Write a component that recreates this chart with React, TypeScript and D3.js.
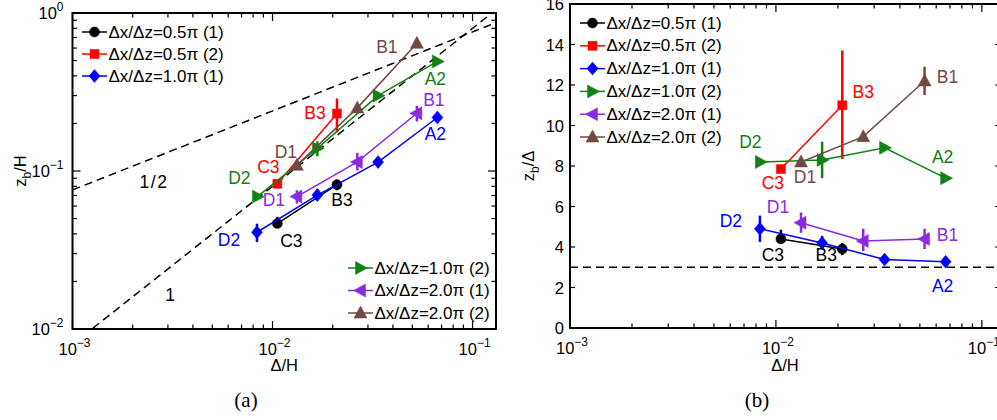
import React from 'react';
import * as d3 from 'd3';

// Series definitions (legend order)
const seriesNames = [
  'Δx/Δz=0.5π (1)',
  'Δx/Δz=0.5π (2)',
  'Δx/Δz=1.0π (1)',
  'Δx/Δz=1.0π (2)',
  'Δx/Δz=2.0π (1)',
  'Δx/Δz=2.0π (2)',
];
const seriesColors = ['#000000', '#ff0000', '#0000ff', '#138013', '#8a2be2', '#6f4a45'];
const seriesMarkers = ['circle', 'square', 'diamond', 'triRight', 'triLeft', 'triUp'];

// Δ/H of every run in each series
const deltaH: number[][] = [
  [0.01057, 0.021],
  [0.01057, 0.021],
  [0.00836, 0.01676, 0.0337, 0.0667],
  [0.0084, 0.01676, 0.0337, 0.0667],
  [0.01324, 0.02655, 0.0527],
  [0.01324, 0.02655, 0.0527],
];

// z_b/Δ of every run in each series
const zbOverDelta: number[][] = [
  [4.4, 3.9],
  [7.85, 11.0],
  [4.9, 4.2, 3.38, 3.27],
  [8.2, 8.3, 8.9, 7.4],
  [5.2, 4.3, 4.4],
  [8.2, 9.45, 12.2],
];

// Uncertainty range of z_b/Δ (null: no bar drawn)
const errLow: (number | null)[][] = [
  [4.15, 3.6],
  [null, 8.35],
  [4.25, 3.9, 3.2, null],
  [null, 7.4, null, null],
  [4.7, 3.8, 3.9],
  [null, null, 11.5],
];
const errHigh: (number | null)[][] = [
  [4.85, 4.2],
  [null, 13.7],
  [5.55, 4.55, 3.6, null],
  [null, 9.2, null, null],
  [5.7, 4.9, 4.9],
  [null, null, 12.9],
];

// Run names attached to points: [series, point, name]
const runLabels: [number, number, string][] = [
  [0, 0, 'C3'],
  [0, 1, 'B3'],
  [1, 0, 'C3'],
  [1, 1, 'B3'],
  [2, 0, 'D2'],
  [2, 3, 'A2'],
  [3, 0, 'D2'],
  [3, 3, 'A2'],
  [4, 0, 'D1'],
  [4, 2, 'B1'],
  [5, 0, 'D1'],
  [5, 2, 'B1'],
];
// Label offsets (px) from their point, per panel
const labelOffsetA: [number, number][] = [
  [14, 17], [5, 15], [-9, -17], [-22, -1], [-28, 8], [-2, 17],
  [-18, -19], [-2, 18], [-23, 3], [17, -13], [-11, -13], [-30, 4],
];
const labelOffsetB: [number, number][] = [
  [-8, 16], [-16, 6], [-8, 14], [21, -13], [-29, -8], [-3, 24],
  [-10, -20], [-3, -21], [-23, -16], [23, -4], [4, 15], [23, -4],
];

// Reference slopes in panel (a): z_b/H = c1 * Δ/H and z_b/H = cHalf * (Δ/H)^(1/2)
const slopeOneCoef = 8;
const slopeHalfCoef = 2.4;
// Reference level in panel (b)
const zbOverDeltaRef = 3;

const xDomainA: [number, number] = [1e-3, 0.131];
const xDomainB: [number, number] = [1e-3, 0.1225];
const yDomainA: [number, number] = [1e-2, 1];
const yDomainB: [number, number] = [0, 16];
const yTicksB = [0, 2, 4, 6, 8, 10, 12, 14, 16];

const FONT = "'Liberation Sans', Arial, Helvetica, sans-serif";

function markerPath(kind: string): string {
  switch (kind) {
    case 'circle':
      return 'M5,0A5,5 0 1,1 -5,0A5,5 0 1,1 5,0Z';
    case 'square':
      return 'M-4.5,-4.5H4.5V4.5H-4.5Z';
    case 'diamond':
      return 'M0,-6.5L5.5,0L0,6.5L-5.5,0Z';
    case 'triRight':
      return 'M7,0L-5,-6.5L-5,6.5Z';
    case 'triLeft':
      return 'M-7,0L5,-6.5L5,6.5Z';
    default:
      return 'M0,-7L6.5,5L-6.5,5Z';
  }
}

function Pow10({ exp, x, y, anchor }: { exp: number; x: number; y: number; anchor: string }) {
  const e = exp < 0 ? `\u2212${-exp}` : `${exp}`;
  return (
    <text x={x} y={y} textAnchor={anchor} fontFamily={FONT} fontSize={16.5} fill="#000">
      <tspan>10</tspan>
      <tspan dy={-8} fontSize={12}>{e}</tspan>
    </text>
  );
}

type PanelProps = {
  id: string;
  left: number;
  right: number;
  top: number;
  bottom: number;
  xDomain: [number, number];
  logY: boolean;
  yDomain: [number, number];
  yValue: (dh: number, r: number) => number;
  offsets: [number, number][];
  children?: React.ReactNode;
  xLabelY: number;
};

function Panel(p: PanelProps) {
  const x = d3.scaleLog().domain(p.xDomain).range([p.left, p.right]);
  const y = p.logY
    ? d3.scaleLog().domain(p.yDomain).range([p.bottom, p.top])
    : d3.scaleLinear().domain(p.yDomain).range([p.bottom, p.top]);

  const line = d3
    .line<[number, number]>()
    .x((d) => x(d[0]))
    .y((d) => y(d[1]));

  const xTicks = (x.ticks() as number[]).filter((t) => t >= p.xDomain[0] * 0.999 && t <= p.xDomain[1]);
  const isMajor = (t: number) => Math.abs(Math.log10(t) - Math.round(Math.log10(t))) < 1e-6;

  const yTickVals: number[] = p.logY
    ? (y.ticks() as number[]).filter((t) => t >= p.yDomain[0] * 0.999 && t <= p.yDomain[1] * 1.001)
    : yTicksB;

  return (
    <g>
      <defs>
        <clipPath id={p.id}>
          <rect x={p.left} y={p.top} width={p.right - p.left} height={p.bottom - p.top} />
        </clipPath>
      </defs>

      {/* x ticks (bottom & top, inward) */}
      {xTicks.map((t, i) => {
        const len = isMajor(t) ? 8 : 4.5;
        const xp = x(t);
        return (
          <g key={'xt' + i} stroke="#000" strokeWidth={1.2}>
            <line x1={xp} x2={xp} y1={p.bottom} y2={p.bottom - len} />
            <line x1={xp} x2={xp} y1={p.top} y2={p.top + len} />
          </g>
        );
      })}
      {xTicks.filter(isMajor).map((t, i) => (
        <Pow10 key={'xl' + i} exp={Math.round(Math.log10(t))} x={x(t) + 2} y={p.bottom + 26} anchor="middle" />
      ))}

      {/* y ticks (left & right, inward) */}
      {yTickVals.map((t, i) => {
        const len = p.logY ? (isMajor(t) ? 8 : 4.5) : 5;
        const yp = y(t);
        return (
          <g key={'yt' + i} stroke="#000" strokeWidth={1.2}>
            <line x1={p.left} x2={p.left + len} y1={yp} y2={yp} />
            <line x1={p.right} x2={p.right - len} y1={yp} y2={yp} />
          </g>
        );
      })}
      {p.logY
        ? yTickVals.filter(isMajor).map((t, i) => (
            <Pow10 key={'yl' + i} exp={Math.round(Math.log10(t))} x={p.left - 9} y={y(t) + 6} anchor="end" />
          ))
        : yTickVals.map((t, i) => (
            <text key={'yl' + i} x={p.left - 6} y={y(t) + 6} textAnchor="end" fontFamily={FONT} fontSize={16.5}>
              {t}
            </text>
          ))}

      <g clipPath={`url(#${p.id})`}>{p.children}</g>

      {/* data: lines, error bars, markers */}
      {deltaH.map((xs, s) => {
        const pts: [number, number][] = xs.map((dh, i) => [dh, p.yValue(dh, zbOverDelta[s][i])]);
        const col = seriesColors[s];
        return (
          <g key={'s' + s}>
            <path d={line(pts) || ''} fill="none" stroke={col} strokeWidth={1.5} />
            {xs.map((dh, i) => {
              const lo = errLow[s][i];
              const hi = errHigh[s][i];
              if (lo == null || hi == null) return null;
              return (
                <line
                  key={'e' + i}
                  x1={x(dh)}
                  x2={x(dh)}
                  y1={y(p.yValue(dh, lo))}
                  y2={y(p.yValue(dh, hi))}
                  stroke={col}
                  strokeWidth={2.5}
                />
              );
            })}
            {pts.map((d, i) => (
              <path
                key={'m' + i}
                d={markerPath(seriesMarkers[s])}
                transform={`translate(${x(d[0])},${y(d[1])})`}
                fill={col}
                stroke={col}
                strokeWidth={0.5}
              />
            ))}
          </g>
        );
      })}

      {/* run names */}
      {runLabels.map(([s, i, name], k) => {
        const dh = deltaH[s][i];
        const px = x(dh) + p.offsets[k][0];
        const py = y(p.yValue(dh, zbOverDelta[s][i])) + p.offsets[k][1];
        return (
          <text
            key={'rl' + k}
            x={px}
            y={py}
            textAnchor="middle"
            dominantBaseline="central"
            fontFamily={FONT}
            fontSize={17.5}
            fill={seriesColors[s]}
          >
            {name}
          </text>
        );
      })}

      {/* frame */}
      <rect
        x={p.left}
        y={p.top}
        width={p.right - p.left}
        height={p.bottom - p.top}
        fill="none"
        stroke="#000"
        strokeWidth={2}
      />

      <text
        x={(p.left + p.right) / 2}
        y={p.xLabelY}
        textAnchor="middle"
        fontFamily={FONT}
        fontSize={16.5}
      >
        Δ/H
      </text>
    </g>
  );
}

function LegendRows({
  items,
  x0,
  y0,
  dy,
}: {
  items: number[];
  x0: number;
  y0: number;
  dy: number;
}) {
  return (
    <g>
      {items.map((s, k) => {
        const yy = y0 + k * dy;
        const col = seriesColors[s];
        return (
          <g key={'lg' + s}>
            <line x1={x0} x2={x0 + 25} y1={yy} y2={yy} stroke={col} strokeWidth={1.5} />
            <path d={markerPath(seriesMarkers[s])} transform={`translate(${x0 + 12.5},${yy})`} fill={col} stroke={col} strokeWidth={0.5} />
            <text x={x0 + 26.5} y={yy} dominantBaseline="central" fontFamily={FONT} fontSize={17}>
              {seriesNames[s]}
            </text>
          </g>
        );
      })}
    </g>
  );
}

export default function App() {
  const W = 997;
  const H = 420;

  // panel (a) geometry
  const aL = 72.5, aR = 496, aT = 13, aB = 329;
  const xa = d3.scaleLog().domain(xDomainA).range([aL, aR]);
  const ya = d3.scaleLog().domain(yDomainA).range([aB, aT]);
  const refXs = d3.range(0, 61).map((k) => xDomainA[0] * Math.pow(xDomainA[1] / xDomainA[0], k / 60));
  const slopeOne = d3
    .line<number>()
    .x((v) => xa(v))
    .y((v) => ya(slopeOneCoef * v))(refXs) || '';
  const slopeHalf = d3
    .line<number>()
    .x((v) => xa(v))
    .y((v) => ya(slopeHalfCoef * Math.sqrt(v)))(refXs) || '';

  // panel (b) geometry
  const bL = 570, bR = 1000, bT = 4, bB = 328;
  const yb = d3.scaleLinear().domain(yDomainB).range([bB, bT]);

  return (
    <svg
      width={W}
      height={H}
      viewBox={`0 0 ${W} ${H}`}
      style={{ position: 'fixed', left: 0, top: 0, background: '#fff' }}
    >
      <rect x={0} y={0} width={W} height={H} fill="#fff" />

      <Panel
        id="clipA"
        left={aL}
        right={aR}
        top={aT}
        bottom={aB}
        xDomain={xDomainA}
        logY={true}
        yDomain={yDomainA}
        yValue={(dh, r) => dh * r}
        offsets={labelOffsetA}
        xLabelY={371}
      >
        <path d={slopeOne} fill="none" stroke="#000" strokeWidth={1.5} strokeDasharray="8,5" />
        <path d={slopeHalf} fill="none" stroke="#000" strokeWidth={1.5} strokeDasharray="8,5" />
      </Panel>
      <text x={154} y={182} textAnchor="middle" dominantBaseline="central" fontFamily={FONT} fontSize={17.5} letterSpacing={1.5}>
        1/2
      </text>
      <text x={170} y={295} textAnchor="middle" dominantBaseline="central" fontFamily={FONT} fontSize={17.5}>
        1
      </text>
      <LegendRows items={[0, 1, 2]} x0={82} y0={32} dy={22} />
      <LegendRows items={[3, 4, 5]} x0={348} y0={268} dy={22.5} />

      <text transform="translate(26,171) rotate(-90)" textAnchor="middle" fontFamily={FONT} fontSize={16.5}>
        <tspan>z</tspan>
        <tspan dy={5} fontSize={12}>b</tspan>
        <tspan dy={-5}>/H</tspan>
      </text>

      <Panel
        id="clipB"
        left={bL}
        right={bR}
        top={bT}
        bottom={bB}
        xDomain={xDomainB}
        logY={false}
        yDomain={yDomainB}
        yValue={(_dh, r) => r}
        offsets={labelOffsetB}
        xLabelY={371}
      >
        <line
          x1={bL}
          x2={bR}
          y1={yb(zbOverDeltaRef)}
          y2={yb(zbOverDeltaRef)}
          stroke="#000"
          strokeWidth={1.5}
          strokeDasharray="8,5"
        />
      </Panel>
      <LegendRows items={[0, 1, 2, 3, 4, 5]} x0={580} y0={23} dy={22.8} />

      <text transform="translate(534,166) rotate(-90)" textAnchor="middle" fontFamily={FONT} fontSize={16.5}>
        <tspan>z</tspan>
        <tspan dy={5} fontSize={12}>b</tspan>
        <tspan dy={-5}>/Δ</tspan>
      </text>

      <text x={246} y={407} textAnchor="middle" fontFamily="'Liberation Serif', 'DejaVu Serif', serif" fontSize={21}>
        (a)
      </text>
      <text x={757} y={407} textAnchor="middle" fontFamily="'Liberation Serif', 'DejaVu Serif', serif" fontSize={21}>
        (b)
      </text>
    </svg>
  );
}
